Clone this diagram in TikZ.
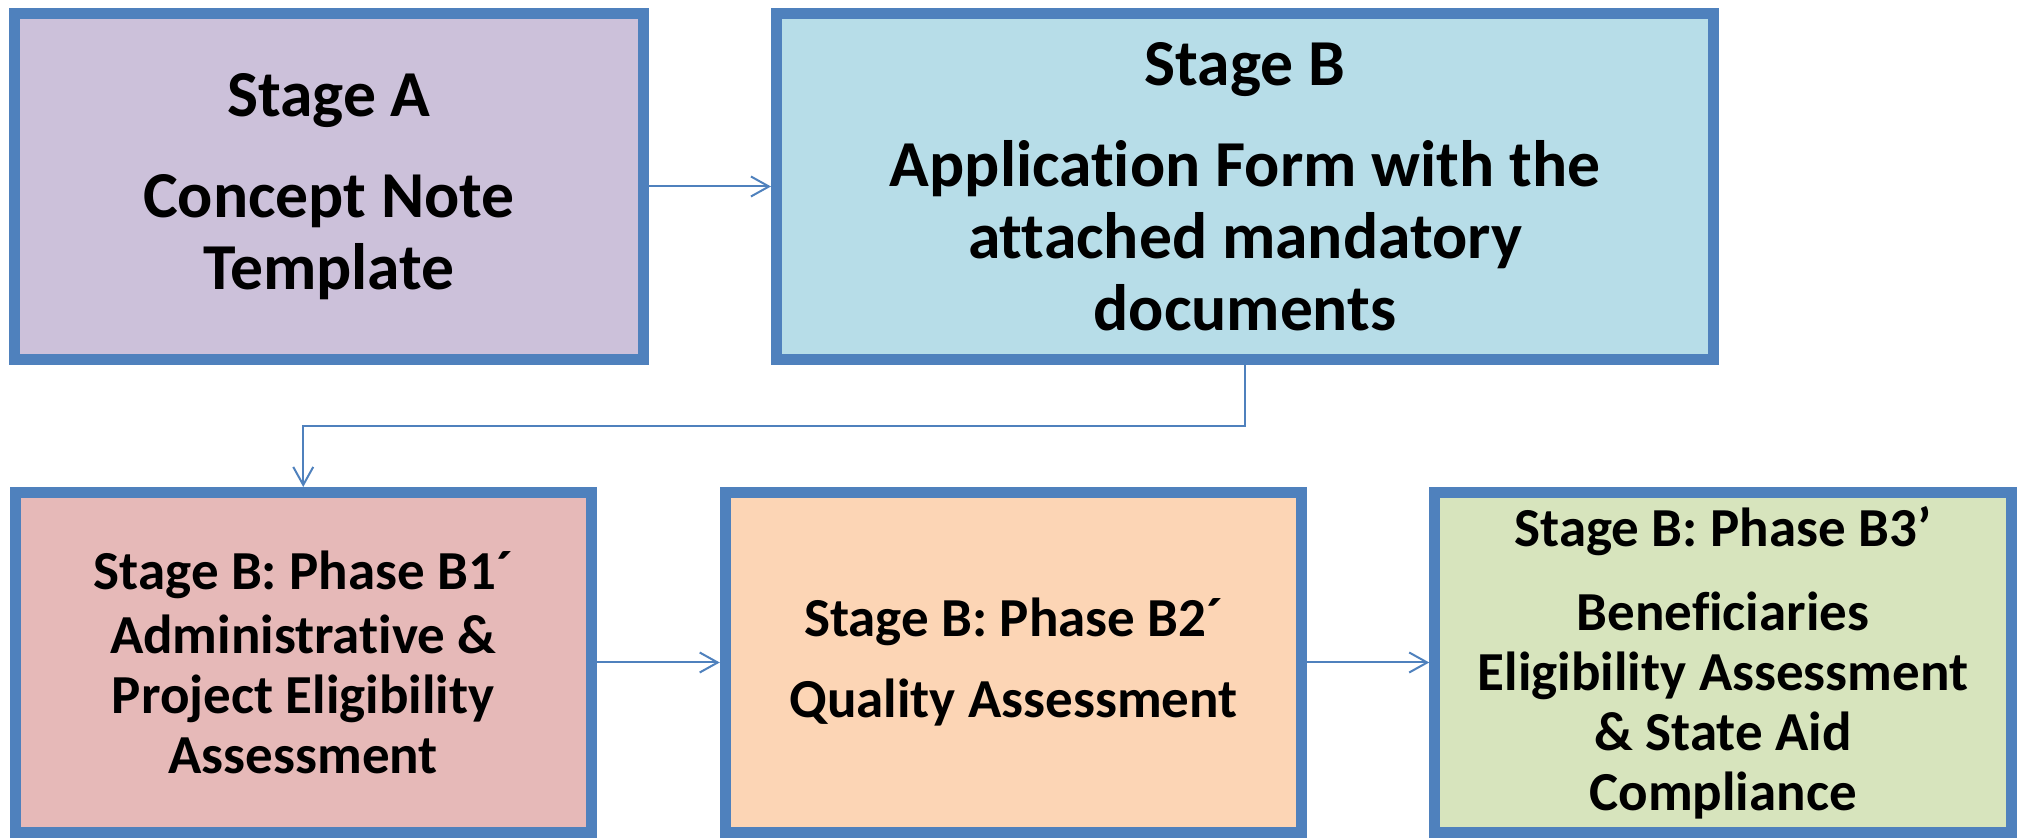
\documentclass[tikz,border=0pt]{standalone}
\usepackage{fontspec}
\setmainfont{Carlito}[Ligatures=NoCommon]
\usetikzlibrary{arrows.meta}
\definecolor{bord}{HTML}{4F81BD}
\definecolor{fillA}{HTML}{CCC1DA}
\definecolor{fillB}{HTML}{B7DDE8}
\definecolor{fillBa}{HTML}{E6B9B8}
\definecolor{fillBb}{HTML}{FCD5B5}
\definecolor{fillBc}{HTML}{D7E4BD}
\begin{document}
\begin{tikzpicture}[x=0.5pt,y=-0.5pt,
  box/.style={draw=bord, line width=5.5pt, inner sep=0pt, align=center,
    font=\bfseries\fontsize{32.8}{36}\selectfont, text=black,
    minimum height=173pt},
  smallbox/.style={box, font=\bfseries\fontsize{27.5}{30}\selectfont,
    minimum height=170pt, minimum width=288.25pt},
  conn/.style={draw=bord, line width=1pt, -{Straight Barb[length=9pt,width=10pt]}}]
\useasboundingbox (0,0) rectangle (2020,838);
\node[box, fill=fillA, minimum width=314.5pt] (A) at (329,186.5)
  {Stage A\\[14.5pt] Concept Note\\ Template};
\node[box, fill=fillB, minimum width=468.5pt] (B) at (1245,186.5)
  {Stage B\\[14.5pt] Application Form with the\\ attached mandatory\\ documents};
\node[smallbox, fill=fillBa] (B1) at (303.25,662.5)
  {Stage B: Phase B1´\\[2pt] Administrative \&\\ Project Eligibility\\ Assessment};
\node[smallbox, fill=fillBb] (B2) at (1013.5,662.5)
  {Stage B: Phase B2´\\[10.5pt] Quality Assessment};
\node[smallbox, fill=fillBc] (B3) at (1723,662.5)
  {Stage B: Phase B3’\\[12pt] Beneficiaries\\ Eligibility Assessment\\ \& State Aid\\ Compliance};
\draw[conn] (A.east) -- (B.west);
\draw[conn] (B.south) -- ++(0,61) -| (B1.north);
\draw[conn] (B1.east) -- (B2.west);
\draw[conn] (B2.east) -- (B3.west);
\end{tikzpicture}
\end{document}
